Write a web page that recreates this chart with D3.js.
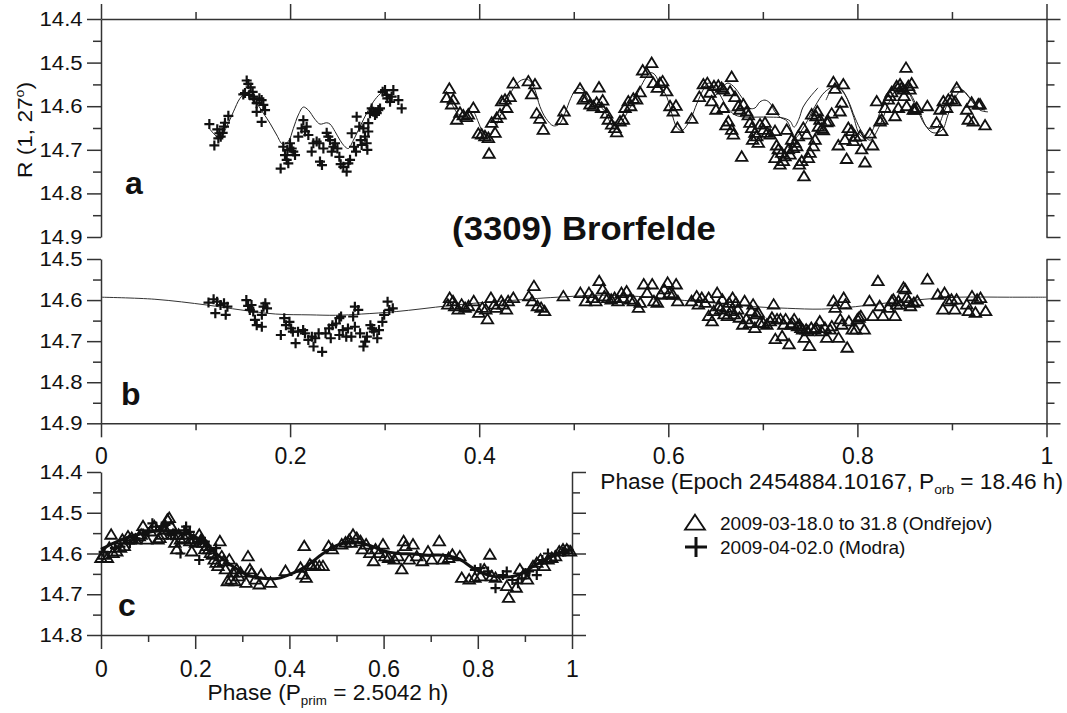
<!DOCTYPE html>
<html><head><meta charset="utf-8">
<script src="https://cdn.jsdelivr.net/npm/d3@7"></script>
<style>
body{margin:0;background:#fff;}
svg{display:block;font-family:"Liberation Sans",Arial,Helvetica,sans-serif;}
</style></head><body>
<svg id="chart" width="1067" height="713"></svg>
<script>
// ---------------- DATA ----------------
const xTicks = [0, 0.2, 0.4, 0.6, 0.8, 1];
const xMinor = [0.1, 0.3, 0.5, 0.7, 0.9];
const xTickLabels = ["0", "0.2", "0.4", "0.6", "0.8", "1"];
const yTicksA = [14.4, 14.5, 14.6, 14.7, 14.8, 14.9];
const yMinorA = [14.45, 14.55, 14.65, 14.75, 14.85];
const yTicksB = [14.5, 14.6, 14.7, 14.8, 14.9];
const yMinorB = [14.55, 14.65, 14.75, 14.85];
const yTicksC = [14.4, 14.5, 14.6, 14.7, 14.8];
const yMinorC = [14.45, 14.55, 14.65, 14.75];
const legendLabels = ["2009-03-18.0 to 31.8 (Ond\u0159ejov)", "2009-04-02.0 (Modra)"];

// Panel a: Modra (+)
const modraA = [
[0.1146,14.641],[0.1199,14.690],[0.1230,14.653],[0.1252,14.662],[0.1266,14.670],[0.1287,14.661],[0.1301,14.647],[0.1311,14.638],[0.1347,14.622],[0.1241,14.674],
[0.1541,14.541],[0.1558,14.549],[0.1583,14.557],[0.1523,14.570],[0.1569,14.574],[0.1604,14.567],[0.1618,14.584],[0.1646,14.593],[0.1675,14.582],[0.1699,14.586],
[0.1717,14.597],[0.1735,14.609],[0.1646,14.613],[0.1699,14.636],[0.1611,14.578],[0.1505,14.573],
[0.1900,14.743],[0.1928,14.693],[0.1946,14.712],[0.1964,14.723],[0.1981,14.731],[0.1999,14.685],[0.2017,14.697],[0.2034,14.704],[0.2052,14.712],[0.1971,14.700],
[0.2087,14.670],[0.2122,14.651],[0.2140,14.632],[0.2158,14.658],[0.2175,14.647],[0.2193,14.666],[0.2228,14.704],[0.2246,14.685],[0.2281,14.681],[0.2309,14.685],
[0.2316,14.727],[0.2337,14.735],[0.2352,14.697],[0.2387,14.661],[0.2404,14.670],[0.2422,14.678],[0.2440,14.704],[0.2457,14.693],[0.2475,14.685],[0.2500,14.697],
[0.2521,14.716],[0.2535,14.733],[0.2563,14.739],[0.2598,14.750],[0.2616,14.731],[0.2634,14.723],[0.2651,14.662],[0.2676,14.693],[0.2697,14.704],[0.2704,14.624],
[0.2732,14.647],[0.2746,14.678],[0.2757,14.689],[0.2775,14.651],[0.2792,14.670],[0.2810,14.685],[0.2817,14.700],[0.2827,14.658],[0.2845,14.616],[0.2863,14.605],
[0.2880,14.613],[0.2898,14.620],[0.2916,14.616],[0.2933,14.609],[0.2951,14.605],[0.2827,14.639],[0.2979,14.567],[0.3004,14.563],[0.3021,14.574],[0.3028,14.582],
[0.3057,14.590],[0.3074,14.578],[0.3092,14.563],[0.3145,14.586],[0.3180,14.605]
];
// Panel a: Ondrejov (triangles)
const ondrA = [
[0.3684,14.561],[0.3656,14.582],[0.3726,14.586],[0.3709,14.597],[0.3762,14.632],[0.3797,14.616],[0.3832,14.622],[0.3867,14.626],[0.3885,14.620],[0.3938,14.605],
[0.3991,14.664],[0.4026,14.666],[0.4061,14.670],[0.4097,14.674],[0.4104,14.710],[0.4167,14.662],[0.4132,14.639],[0.4185,14.628],[0.4220,14.620],[0.4238,14.590],
[0.4273,14.586],[0.4291,14.605],[0.4326,14.580],[0.4361,14.549],[0.4520,14.544],[0.4590,14.551],[0.4555,14.574],[0.4608,14.618],[0.4643,14.630],[0.4678,14.655],
[0.4872,14.633],[0.4897,14.613],[0.5066,14.561],[0.5101,14.586],[0.5137,14.582],[0.5172,14.597],[0.5207,14.601],[0.5242,14.593],[0.5267,14.558],[0.5306,14.588],
[0.5295,14.605],[0.5348,14.618],[0.5366,14.632],[0.5401,14.643],[0.5454,14.661],[0.5436,14.651],[0.5489,14.636],[0.5524,14.632],[0.5542,14.605],[0.5577,14.590],
[0.5602,14.601],[0.5630,14.584],[0.5665,14.586],[0.5701,14.569],[0.5729,14.519],[0.5771,14.525],[0.5824,14.502],[0.5842,14.548],[0.5884,14.559],[0.5912,14.548],
[0.5940,14.544],[0.5983,14.567],[0.6018,14.601],[0.6053,14.613],[0.6081,14.600],[0.6096,14.651],[0.6247,14.630],[0.6328,14.580],[0.6371,14.551],[0.6413,14.548],
[0.6441,14.570],[0.6459,14.590],[0.6483,14.555],[0.6505,14.609],[0.6529,14.554],[0.6564,14.559],[0.6582,14.563],[0.6610,14.645],[0.6635,14.636],[0.6670,14.534],
[0.6670,14.655],[0.6688,14.666],[0.6705,14.580],[0.6582,14.605],[0.6653,14.567],
[0.6741,14.601],[0.6758,14.609],[0.6776,14.717],[0.6794,14.597],[0.6829,14.613],[0.6846,14.622],[0.6864,14.639],[0.6882,14.651],[0.6892,14.678],[0.6917,14.662],
[0.6935,14.670],[0.6952,14.685],[0.6970,14.643],[0.7005,14.655],[0.7023,14.639],[0.7047,14.662],[0.7076,14.666],[0.7104,14.610],[0.7129,14.658],[0.7146,14.691],
[0.7164,14.700],[0.7129,14.720],[0.7181,14.735],[0.7199,14.708],[0.7217,14.727],[0.7234,14.716],[0.7252,14.655],[0.7270,14.700],[0.7287,14.712],[0.7305,14.678],
[0.7322,14.697],[0.7340,14.685],[0.7358,14.693],[0.7375,14.670],[0.7386,14.735],[0.7411,14.727],[0.7428,14.651],[0.7435,14.762],[0.7463,14.666],[0.7481,14.720],
[0.7499,14.708],[0.7516,14.620],[0.7534,14.693],[0.7552,14.678],[0.7562,14.624],[0.7576,14.613],[0.7587,14.648],[0.7605,14.632],[0.7622,14.653],[0.7640,14.656],
[0.7675,14.638],[0.7693,14.636],[0.7728,14.618],[0.7746,14.546],[0.7763,14.561],[0.7798,14.691],[0.7816,14.613],[0.7834,14.593],[0.7851,14.551],[0.7869,14.678],
[0.7886,14.722],[0.7904,14.651],[0.7939,14.658],[0.7957,14.681],[0.7975,14.671],[0.8027,14.670],[0.8045,14.700],[0.8080,14.730],[0.8133,14.664],[0.8161,14.691],
[0.8204,14.590],[0.8239,14.636],[0.8257,14.632],[0.8292,14.605],[0.8327,14.586],[0.8345,14.578],[0.8362,14.569],[0.8398,14.624],[0.8415,14.555],[0.8433,14.605],
[0.8451,14.551],[0.8468,14.559],[0.8486,14.563],[0.8493,14.578],[0.8514,14.513],[0.8521,14.601],[0.8539,14.555],[0.8556,14.563],[0.8574,14.549],[0.8592,14.609],
[0.8609,14.609],[0.8627,14.605],[0.8740,14.601],[0.8838,14.639],[0.8874,14.609],[0.8891,14.658],[0.8909,14.590],[0.8944,14.605],[0.8962,14.586],[0.8997,14.586],
[0.9032,14.590],[0.9050,14.559],[0.9156,14.609],[0.9173,14.632],[0.9208,14.593],[0.9226,14.636],[0.9279,14.597],[0.9297,14.597],[0.9350,14.645]
];
// Panel a: model curves (one per night)
const curveA1 = [
[0.1146,14.651],[0.1206,14.666],[0.1259,14.672],[0.1329,14.647],[0.1400,14.613],[0.1470,14.582],[0.1523,14.572],[0.1576,14.578],[0.1646,14.593],[0.1717,14.616],
[0.1787,14.639],[0.1858,14.666],[0.1921,14.687],[0.1981,14.681],[0.2034,14.651],[0.2087,14.620],[0.2140,14.602],[0.2193,14.609],[0.2263,14.630],[0.2316,14.641],
[0.2387,14.638],[0.2422,14.641],[0.2475,14.658],[0.2528,14.678],[0.2581,14.693],[0.2616,14.697],[0.2669,14.678],[0.2739,14.647],[0.2810,14.616],[0.2880,14.590],
[0.2951,14.572],[0.3021,14.563]
];
const curveA2 = [
[0.3673,14.578],[0.3726,14.601],[0.3779,14.618],[0.3850,14.622],[0.3903,14.613],[0.3938,14.613],[0.3990,14.636],[0.4043,14.662],[0.4096,14.671],[0.4149,14.658],
[0.4220,14.624],[0.4291,14.590],[0.4361,14.559],[0.4432,14.542],[0.4495,14.538],[0.4545,14.544],[0.4590,14.563],[0.4643,14.601],[0.4706,14.628],[0.4784,14.645],
[0.4847,14.641],[0.4907,14.616],[0.4968,14.582],[0.5024,14.561],[0.5066,14.559],[0.5108,14.567],[0.5154,14.586],[0.5207,14.597],[0.5278,14.601],[0.5330,14.613],
[0.5383,14.636],[0.5436,14.651],[0.5489,14.643],[0.5553,14.620],[0.5630,14.590],[0.5701,14.559],[0.5764,14.534],[0.5814,14.523],[0.5859,14.528],[0.5912,14.551],
[0.5983,14.578],[0.6036,14.616],[0.6089,14.648],[0.6142,14.656],[0.6229,14.632],[0.6304,14.593],[0.6367,14.563],[0.6420,14.547],[0.6483,14.554],[0.6547,14.574],
[0.6621,14.602],[0.6705,14.620],[0.6811,14.625],[0.6938,14.625],[0.7076,14.625],[0.7213,14.627],[0.7287,14.634],[0.7330,14.648],[0.7380,14.630],[0.7425,14.602],
[0.7499,14.579],[0.7583,14.558]
];
const curveA3 = [
[0.6462,14.586],[0.6547,14.563],[0.6631,14.547],[0.6705,14.558],[0.6758,14.574],[0.6811,14.590],[0.6864,14.605],[0.6917,14.604],[0.6970,14.590],[0.7023,14.586],
[0.7076,14.593],[0.7128,14.613],[0.7181,14.625],[0.7255,14.634],[0.7308,14.659],[0.7340,14.673],[0.7446,14.643],[0.7552,14.600],[0.7657,14.567],[0.7774,14.554],
[0.7869,14.574],[0.7953,14.620],[0.8027,14.666],[0.8101,14.673],[0.8207,14.632],[0.8313,14.570],[0.8419,14.551],[0.8450,14.547],[0.8556,14.570],[0.8662,14.616],
[0.8747,14.650],[0.8842,14.648],[0.8905,14.620],[0.8979,14.581],[0.9053,14.556],[0.9159,14.574],[0.9265,14.602],[0.9350,14.609]
];
const curveA4 = [
[0.7668,14.586],[0.7742,14.558],[0.7816,14.558],[0.7900,14.586],[0.7975,14.627],[0.8049,14.659],[0.8133,14.678],[0.8239,14.643],[0.8345,14.586],[0.8430,14.558],
[0.8503,14.558],[0.8609,14.597],[0.8715,14.643],[0.8800,14.661],[0.8895,14.655],[0.8958,14.620],[0.9032,14.581],[0.9106,14.563],[0.9191,14.581],[0.9297,14.609],
[0.9381,14.613]
];

// Panel b: primary-subtracted data
const modraB = [
[0.1137,14.606],[0.1191,14.598],[0.1228,14.604],[0.1264,14.612],[0.1301,14.608],[0.1337,14.616],[0.1209,14.632],[0.1319,14.636],[0.1537,14.600],[0.1556,14.614],
[0.1592,14.612],[0.1574,14.624],[0.1610,14.628],[0.1628,14.648],[0.1647,14.661],[0.1701,14.665],[0.1719,14.616],[0.1738,14.608],[0.1756,14.620],[0.1701,14.636],
[0.1902,14.685],[0.1938,14.644],[0.1956,14.661],[0.1993,14.653],[0.2011,14.669],[0.2029,14.677],[0.2058,14.705],[0.2084,14.677],[0.2138,14.673],[0.2157,14.681],
[0.2193,14.697],[0.2230,14.689],[0.2266,14.693],[0.2302,14.681],[0.2248,14.713],[0.2339,14.726],[0.2375,14.681],[0.2412,14.669],[0.2430,14.693],[0.2448,14.661],
[0.2485,14.657],[0.2521,14.644],[0.2539,14.640],[0.2521,14.685],[0.2557,14.673],[0.2594,14.689],[0.2612,14.669],[0.2648,14.689],[0.2685,14.665],[0.2667,14.640],
[0.2685,14.616],[0.2721,14.624],[0.2740,14.681],[0.2776,14.713],[0.2794,14.701],[0.2812,14.689],[0.2849,14.661],[0.2867,14.669],[0.2885,14.677],[0.2922,14.693],
[0.2940,14.673],[0.2976,14.653],[0.2995,14.636],[0.3031,14.604],[0.3049,14.624],[0.3086,14.620]
];
const ondrB = [
[0.3687,14.596],[0.3668,14.612],[0.3723,14.604],[0.3741,14.616],[0.3778,14.624],[0.3814,14.612],[0.3851,14.620],[0.3887,14.616],[0.3942,14.604],[0.3996,14.632],
[0.4033,14.620],[0.4087,14.648],[0.4069,14.624],[0.4124,14.596],[0.4160,14.612],[0.4179,14.620],[0.4233,14.604],[0.4251,14.612],[0.4288,14.624],[0.4306,14.604],
[0.4361,14.596],[0.4525,14.592],[0.4579,14.567],[0.4561,14.604],[0.4616,14.616],
[0.4655,14.620],[0.4691,14.628],[0.4890,14.592],[0.5070,14.584],[0.5125,14.604],[0.5161,14.584],[0.5197,14.596],[0.5233,14.604],[0.5269,14.555],[0.5306,14.575],
[0.5324,14.592],[0.5360,14.596],[0.5396,14.600],[0.5432,14.596],[0.5468,14.604],[0.5505,14.584],[0.5523,14.596],[0.5559,14.580],[0.5595,14.600],[0.5631,14.604],
[0.5685,14.620],[0.5703,14.608],[0.5740,14.563],[0.5776,14.584],[0.5830,14.563],[0.5848,14.604],[0.5884,14.608],[0.5920,14.588],[0.5957,14.575],[0.5993,14.559],
[0.6011,14.584],[0.6047,14.588],[0.6083,14.563],[0.6101,14.604],[0.6246,14.604],[0.6300,14.592],[0.6318,14.612],[0.6354,14.596],[0.6391,14.608],[0.6427,14.596],
[0.6427,14.640],[0.6463,14.653],[0.6481,14.628],[0.6517,14.584],[0.6535,14.616],[0.6553,14.624],[0.6571,14.600],[0.6590,14.636],[0.6608,14.620],[0.6626,14.640],
[0.6644,14.608],[0.6662,14.628],[0.6680,14.596],[0.6698,14.636],[0.6716,14.608],[0.6734,14.624],[0.6752,14.644],[0.6788,14.661],[0.6807,14.604],[0.6825,14.648],
[0.6861,14.657],[0.6879,14.628],[0.6897,14.612],[0.6915,14.669],[0.6933,14.636],[0.6951,14.632],[0.6969,14.657],[0.7005,14.657],[0.7042,14.661],[0.7078,14.653],
[0.7096,14.644],[0.7114,14.612],[0.7132,14.696],[0.7150,14.648],[0.7186,14.648],[0.7204,14.689],[0.7222,14.661],[0.7241,14.648],[0.7277,14.709],[0.7295,14.661],
[0.7313,14.657],[0.7331,14.648],[0.7367,14.665],[0.7385,14.661],[0.7403,14.669],[0.7421,14.673],[0.7439,14.693],[0.7458,14.673],[0.7476,14.677],[0.7494,14.713],
[0.7512,14.669],[0.7548,14.673],[0.7566,14.669],[0.7602,14.653],[0.7620,14.677],[0.7656,14.669],[0.7675,14.693],[0.7711,14.673],[0.7729,14.665],[0.7747,14.604],
[0.7765,14.620],[0.7801,14.693],[0.7819,14.648],[0.7837,14.661],[0.7855,14.596],[0.7873,14.612],[0.7892,14.717],[0.7910,14.653],[0.7946,14.673],[0.7982,14.673],
[0.8000,14.648],[0.8018,14.644],[0.8036,14.640],[0.8072,14.673],[0.8127,14.604],[0.8163,14.640],[0.8217,14.555],[0.8235,14.616],[0.8271,14.640],[0.8326,14.620],
[0.8362,14.604],[0.8380,14.600],[0.8398,14.640],[0.8416,14.612],[0.8434,14.604],[0.8452,14.612],[0.8488,14.571],[0.8506,14.575],[0.8524,14.596],[0.8542,14.604],
[0.8561,14.616],[0.8597,14.608],[0.8633,14.604],[0.8741,14.551],[0.8850,14.588],[0.8904,14.624],[0.8922,14.584],[0.8958,14.604],[0.8995,14.600],[0.9031,14.624],
[0.9049,14.600],[0.9157,14.612],[0.9175,14.628],[0.9212,14.592],[0.9248,14.632],[0.9266,14.600],[0.9302,14.596],[0.9356,14.628]
];
const curveB = [
[0,14.593],[0.057,14.598],[0.1118,14.612],[0.148,14.624],[0.1847,14.634],[0.2211,14.636],[0.248,14.637],[0.2758,14.634],[0.3122,14.628],[0.3668,14.614],
[0.4033,14.606],[0.4397,14.600],[0.4616,14.596],[0.4908,14.592],[0.5269,14.588],[0.5812,14.593],[0.6174,14.601],[0.6535,14.608],[0.6897,14.616],[0.7259,14.620],
[0.762,14.622],[0.7982,14.616],[0.8344,14.606],[0.8705,14.598],[0.9067,14.593],[0.961,14.593],[1.0,14.593]
];

// Panel c: folded on primary period
const ondrC = [
[0,14.612],[0.0056,14.604],[0.0135,14.612],[0.0175,14.587],[0.0215,14.555],[0.0255,14.600],[0.0334,14.596],[0.0414,14.587],[0.0454,14.567],[0.0494,14.583],
[0.0573,14.559],[0.0613,14.567],[0.0653,14.563],[0.0732,14.567],[0.0812,14.559],[0.0852,14.555],[0.0892,14.534],[0.0971,14.567],[0.1051,14.547],[0.1131,14.534],
[0.1210,14.567],[0.1250,14.563],[0.1290,14.555],[0.1369,14.543],[0.1409,14.518],[0.1449,14.514],[0.1489,14.534],[0.1529,14.555],[0.1568,14.575],[0.1608,14.591],
[0.1648,14.555],[0.1688,14.567],[0.1768,14.563],[0.1847,14.555],[0.1887,14.571],[0.1927,14.596],[0.1967,14.567],[0.2006,14.575],[0.2086,14.555],[0.2126,14.567],
[0.2166,14.575],[0.2205,14.591],[0.2245,14.583],[0.2285,14.591],[0.2325,14.600],[0.2365,14.604],[0.2404,14.616],[0.2444,14.624],[0.2484,14.632],[0.2524,14.571],
[0.2564,14.608],[0.2604,14.620],[0.2643,14.640],[0.2683,14.669],[0.2723,14.616],[0.2763,14.665],[0.2803,14.648],[0.2842,14.669],[0.2882,14.640],[0.2922,14.657],
[0.2962,14.648],[0.3081,14.673],[0.3121,14.608],[0.3161,14.640],[0.3201,14.648],[0.3280,14.665],[0.3360,14.677],[0.3400,14.653],[0.3599,14.673],[0.3917,14.644],
[0.4236,14.636],[0.4275,14.653],[0.4315,14.583],[0.4355,14.661],[0.4435,14.628],[0.4475,14.632],[0.4554,14.632],[0.4634,14.632],[0.4713,14.632],[0.4833,14.583],
[0.4912,14.591],[0.5111,14.579],[0.5191,14.574],[0.5271,14.567],[0.5310,14.575],[0.5350,14.555],[0.5430,14.563],[0.5510,14.571],[0.5549,14.591],[0.5629,14.579],
[0.5709,14.600],[0.5788,14.620],[0.5828,14.591],[0.5908,14.600],[0.5987,14.579],[0.6027,14.608],[0.6107,14.612],[0.6226,14.616],[0.6306,14.608],[0.6385,14.640],
[0.6425,14.571],[0.6465,14.583],[0.6545,14.616],[0.6624,14.579],[0.6704,14.608],[0.6823,14.620],[0.6943,14.596],[0.7022,14.616],[0.7182,14.571],[0.7261,14.616],
[0.7381,14.612],[0.7460,14.604],[0.7619,14.608],[0.7659,14.661],[0.7818,14.665],[0.7938,14.661],[0.8057,14.657],[0.8137,14.640],[0.8256,14.604],[0.8296,14.657],
[0.8376,14.661],[0.8615,14.681],[0.8654,14.710],[0.8814,14.685],[0.8893,14.640],[0.8973,14.653],[0.9053,14.665],[0.9172,14.632],[0.9252,14.624],[0.9331,14.616],
[0.9411,14.632],[0.9490,14.616],[0.9570,14.612],[0.9650,14.608],[0.9729,14.596],[0.9809,14.591],[0.9889,14.591],[0.9968,14.596]
];
const modraC = [
[0.0056,14.596],[0.0295,14.587],[0.0414,14.583],[0.0613,14.575],[0.0732,14.563],[0.0892,14.551],[0.1011,14.547],[0.1091,14.526],[0.1170,14.534],[0.1250,14.543],
[0.1290,14.534],[0.1369,14.530],[0.1489,14.555],[0.1568,14.551],[0.1688,14.600],[0.1768,14.543],[0.1807,14.534],[0.1887,14.547],[0.2046,14.571],[0.2086,14.616],
[0.2126,14.567],[0.2205,14.571],[0.2325,14.591],[0.2444,14.587],[0.7938,14.640],[0.8057,14.636],[0.8217,14.644],[0.8376,14.685],[0.8535,14.653],[0.8615,14.644],
[0.8734,14.665],[0.8854,14.673],[0.8933,14.661],[0.9013,14.648],[0.9092,14.644],[0.9252,14.653],[0.9371,14.616],[0.9490,14.600],[0.9650,14.604],[0.9809,14.596],
[0.9928,14.591]
];
const curveC = [
[0,14.590],[0.0255,14.575],[0.0573,14.560],[0.0892,14.551],[0.1210,14.545],[0.1529,14.547],[0.1847,14.552],[0.2166,14.571],[0.2484,14.604],[0.2803,14.632],
[0.3121,14.653],[0.3440,14.661],[0.3758,14.661],[0.4076,14.648],[0.4395,14.628],[0.4713,14.600],[0.5032,14.579],[0.5350,14.571],[0.5669,14.579],[0.5987,14.593],
[0.6306,14.600],[0.6624,14.601],[0.6943,14.604],[0.7261,14.604],[0.7580,14.612],[0.7898,14.636],[0.8217,14.653],[0.8535,14.658],[0.8854,14.653],[0.9172,14.632],
[0.9490,14.612],[0.9809,14.596],[1.0,14.590]
];

// ---------------- DRAWING ----------------
const svg = d3.select("#chart");
const AX = "#333";

const xA = d3.scaleLinear([0, 1], [101, 1046.5]);
const yA = d3.scaleLinear([14.4, 14.9], [19, 237]);
const yB = d3.scaleLinear([14.5, 14.9], [259, 423.3]);
const xC = d3.scaleLinear([0, 1], [101, 572]);
const yC = d3.scaleLinear([14.4, 14.8], [472, 635]);

function styleAxis(g) {
  g.attr("font-family", null).attr("font-size", null);
  g.selectAll("line,path").attr("stroke", AX).attr("stroke-width", 1.5);
}
function yAxis(scale, x, side, major, minor, labels) {
  const A = side === "left" ? d3.axisLeft : d3.axisRight;
  const g = svg.append("g").attr("transform", `translate(${x},0)`)
    .call(A(scale).tickValues(major).tickSize(14).tickSizeOuter(0)
      .tickFormat(labels ? d3.format(".1f") : () => ""));
  styleAxis(g);
  g.selectAll("text").attr("font-size", 20.5).attr("fill", "#111")
    .attr("x", -17).attr("transform", "scale(1.08,1)");
  const m = svg.append("g").attr("transform", `translate(${x},0)`)
    .call(A(scale).tickValues(minor).tickSize(8).tickSizeOuter(0).tickFormat(() => ""));
  m.select(".domain").remove();
  styleAxis(m);
}
function xAxis(scale, y, side, majorLen, labels, labelY) {
  const A = side === "top" ? d3.axisTop : d3.axisBottom;
  const g = svg.append("g").attr("transform", `translate(0,${y})`)
    .call(A(scale).tickValues(xTicks).tickSize(majorLen).tickSizeOuter(0)
      .tickFormat(labels ? (d, i) => xTickLabels[i] : () => ""));
  styleAxis(g);
  g.selectAll("text").attr("font-size", 23).attr("fill", "#111").attr("y", labelY);
  const m = svg.append("g").attr("transform", `translate(0,${y})`)
    .call(A(scale).tickValues(xMinor).tickSize(7).tickSizeOuter(0).tickFormat(() => ""));
  m.select(".domain").remove();
  styleAxis(m);
}

// Panel a axes
xAxis(xA, 19, "top", 15, false, 0);
yAxis(yA, 101, "left", yTicksA, yMinorA, true);
yAxis(yA, 1046.5, "right", yTicksA, yMinorA, false);
// Panel b axes
xAxis(xA, 423.3, "bottom", 14, true, 24);
yAxis(yB, 101, "left", yTicksB, yMinorB, true);
yAxis(yB, 1046.5, "right", yTicksB, yMinorB, false);
// Panel c axes
xAxis(xC, 635, "bottom", 14, true, 25.5);
yAxis(yC, 101, "left", yTicksC, yMinorC, true);
yAxis(yC, 572, "right", yTicksC, yMinorC, false);

// markers
function triPath(w, h) {
  return `M0,${-h * 0.62}L${w / 2},${h * 0.38}L${-w / 2},${h * 0.38}Z`;
}
function plusPath(s) { return `M${-s},0H${s}M0,${-s}V${s}`; }

function drawTri(data, xs, ys, w, h) {
  svg.append("g").selectAll("path").data(data).join("path")
    .attr("d", triPath(w, h))
    .attr("transform", d => `translate(${xs(d[0])},${ys(d[1])})`)
    .attr("fill", "none").attr("stroke", "#111").attr("stroke-width", 1.8)
    .attr("stroke-linejoin", "miter");
}
function drawPlus(data, xs, ys, s, sw) {
  svg.append("g").selectAll("path").data(data).join("path")
    .attr("d", plusPath(s))
    .attr("transform", d => `translate(${xs(d[0])},${ys(d[1])})`)
    .attr("fill", "none").attr("stroke", "#111").attr("stroke-width", sw);
}
function drawCurve(data, xs, ys, sw, color) {
  const line = d3.line().x(d => xs(d[0])).y(d => ys(d[1])).curve(d3.curveCatmullRom.alpha(0.5));
  svg.append("path").datum(data).attr("d", line)
    .attr("fill", "none").attr("stroke", color).attr("stroke-width", sw);
}

// Panel a
[curveA1, curveA2, curveA3, curveA4].forEach(c => drawCurve(c, xA, yA, 1, "#222"));
drawPlus(modraA, xA, yA, 5, 2.2);
drawTri(ondrA, xA, yA, 11.5, 9.5);
// Panel b
drawCurve(curveB, xA, yB, 1, "#333");
drawPlus(modraB, xA, yB, 5, 2.2);
drawTri(ondrB, xA, yB, 11.5, 9.5);
// Panel c
drawTri(ondrC, xC, yC, 11.5, 9.5);
drawPlus(modraC, xC, yC, 5, 2.2);
drawCurve(curveC, xC, yC, 3, "#111");

// texts
function txt(x, y, s, size, opts = {}) {
  const t = svg.append("text")
    .attr("transform", `translate(${x},${y})${opts.rot ? ` rotate(${opts.rot})` : ""} scale(${opts.sx || 1},1)`)
    .attr("font-size", size).attr("fill", "#111")
    .attr("text-anchor", opts.anchor || "start")
    .attr("font-weight", opts.bold ? "bold" : null);
  if (typeof s === "string") t.text(s); else s(t);
  return t;
}
// panel letters
txt(125, 194, "a", 32, { bold: true });
txt(121, 405, "b", 32, { bold: true });
txt(118, 616, "c", 32, { bold: true });
// title
txt(584, 240, "(3309) Brorfelde", 33, { bold: true, anchor: "middle", sx: 1.05 });
// y label
txt(31.5, 130, t => {
  t.append("tspan").text("R (1, 27");
  t.append("tspan").text("o").attr("font-size", 13).attr("dy", -8);
  t.append("tspan").text(")").attr("dy", 8);
}, 21, { rot: -90, anchor: "middle", sx: 1.08 });
// x titles
txt(1063, 489, t => {
  t.append("tspan").text("Phase (Epoch 2454884.10167, P");
  t.append("tspan").text("orb").attr("font-size", 13).attr("dy", 5);
  t.append("tspan").text(" = 18.46 h)").attr("dy", -5);
}, 21.5, { anchor: "end", sx: 1.055 });
txt(328, 700, t => {
  t.append("tspan").text("Phase (P");
  t.append("tspan").text("prim").attr("font-size", 13).attr("dy", 5);
  t.append("tspan").text(" = 2.5042 h)").attr("dy", -5);
}, 22, { anchor: "middle", sx: 1.03 });

// legend
svg.append("path").attr("d", triPath(20, 15)).attr("transform", "translate(695,524)")
  .attr("fill", "none").attr("stroke", "#111").attr("stroke-width", 1.8);
svg.append("path").attr("d", "M-11,0H11M0,-10V10").attr("transform", "translate(696,547)")
  .attr("fill", "none").attr("stroke", "#111").attr("stroke-width", 3);
txt(720, 530, legendLabels[0], 18, { sx: 1.06 });
txt(720, 554, legendLabels[1], 18, { sx: 1.06 });
</script></body></html>
